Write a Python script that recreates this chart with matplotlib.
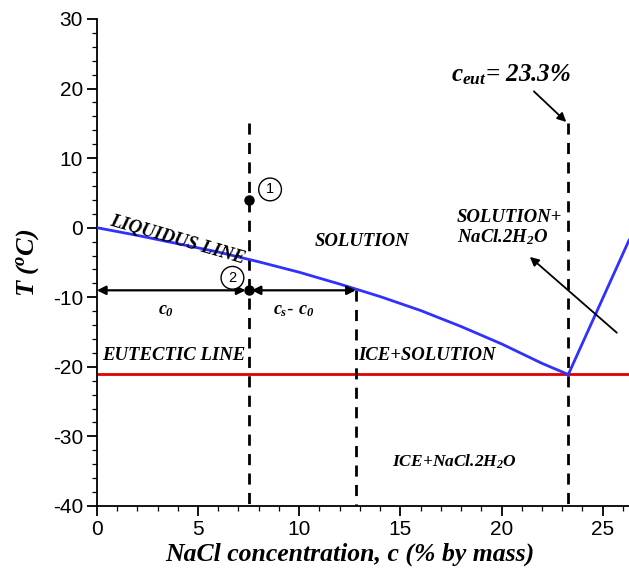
import matplotlib
matplotlib.use("Agg")
import matplotlib.pyplot as plt
from matplotlib.ticker import MultipleLocator

plt.rcParams["axes.unicode_minus"] = False
plt.rcParams["mathtext.fontset"] = "custom"
plt.rcParams["mathtext.rm"] = "Liberation Serif:bold:italic"
plt.rcParams["mathtext.it"] = "Liberation Serif:bold:italic"
plt.rcParams["mathtext.bf"] = "Liberation Serif:bold:italic"

# Data
liq_c = [0, 2, 4, 6, 8, 10, 12, 14, 16, 18, 20, 22, 23.3]
liq_T = [0, -1.1, -2.3, -3.5, -4.9, -6.4, -8.1, -9.9, -11.9, -14.2, -16.7, -19.5, -21.1]
sat_c = [23.3, 26.3]
sat_T = [-21.1, -1.8]
eut_T = -21.1
c0 = 7.5
cs = 12.8
ceut = 23.3
T1 = 4
T2 = -9

serif = dict(family="Liberation Serif", weight="bold", style="italic")

fig = plt.figure(figsize=(6.29, 5.74), dpi=100)
ax = fig.add_axes([0.154, 0.1185, 0.846, 0.8484])

ax.axhline(eut_T, color="#e00000", lw=2, zorder=2)
ax.plot(liq_c, liq_T, color="#3030ff", lw=2, zorder=3)
ax.plot(sat_c, sat_T, color="#3030ff", lw=2, zorder=3)

dash = dict(color="black", lw=2, ls=(0, (4, 3)), zorder=2)
ax.plot([c0, c0], [15, -40], **dash)
ax.plot([cs, cs], [T2, -40], **dash)
ax.plot([ceut, ceut], [15, -40], **dash)

ax.plot([c0, c0], [T1, T2], "o", color="black", ms=6.5, zorder=5)

arr = dict(arrowstyle="<|-|>", color="black", lw=1.6, mutation_scale=13, shrinkA=0, shrinkB=0)
ax.annotate("", xy=(0, T2), xytext=(c0 - 0.15, T2), arrowprops=arr)
ax.annotate("", xy=(c0 + 0.15, T2), xytext=(cs, T2), arrowprops=arr)

ax.annotate("", xy=(ceut - 0.1, 15.2), xytext=(21.6, 19.6),
            arrowprops=dict(arrowstyle="-|>", color="black", lw=1.3, mutation_scale=13,
                            shrinkA=0, shrinkB=0))
ax.annotate("", xy=(21.4, -4.2), xytext=(25.7, -15.1),
            arrowprops=dict(arrowstyle="-|>", color="black", lw=1.3, mutation_scale=13,
                            shrinkA=0, shrinkB=0))

circ = dict(boxstyle="circle,pad=0.3", fc="white", ec="black", lw=1)
ax.text(8.56, 5.5, "1", fontsize=10.5, ha="center", va="center", bbox=circ, family="Liberation Sans")
ax.text(6.7, -7.2, "2", fontsize=10.5, ha="center", va="center", bbox=circ, family="Liberation Sans")

fs = 13.5
ax.text(0.65, 1.0, "LIQUIDUS LINE", fontsize=fs, rotation=-16, ha="left", va="center",
        rotation_mode="anchor", **serif)
ax.text(10.75, -2.0, "SOLUTION", fontsize=fs, ha="left", va="center", **serif)
ax.text(17.8, 1.5, "SOLUTION+", fontsize=fs, ha="left", va="center", **serif)
ax.text(17.8, -1.4, r"NaCl.2H$_2$O", fontsize=fs, ha="left", va="center", **serif)
ax.text(0.25, -18.4, "EUTECTIC LINE", fontsize=fs, ha="left", va="center", **serif)
ax.text(12.9, -18.3, "ICE+SOLUTION", fontsize=fs, ha="left", va="center", **serif)
ax.text(14.6, -33.6, r"ICE+NaCl.2H$_2$O", fontsize=12.5, ha="left", va="center", **serif)
ax.text(3.4, -11.8, r"$c_0$", fontsize=13, ha="center", va="center")
ax.text(9.75, -11.8, r"$c_s$- $c_0$", fontsize=13, ha="center", va="center")
ax.text(17.5, 22.0, r"$c_{eut}$= 23.3%", fontsize=18, ha="left", va="center", **serif)

ax.set_xlim(0, 26.3)
ax.set_ylim(-40, 30)
ax.xaxis.set_major_locator(MultipleLocator(5))
ax.xaxis.set_minor_locator(MultipleLocator(1))
ax.yaxis.set_major_locator(MultipleLocator(10))
ax.yaxis.set_minor_locator(MultipleLocator(2))
ax.tick_params(which="major", direction="out", length=7, width=1.3, labelsize=15, pad=3)
ax.tick_params(which="minor", direction="out", length=3.5, width=0.9)
for lab in ax.get_xticklabels() + ax.get_yticklabels():
    lab.set_family("Liberation Sans")
ax.spines["top"].set_visible(False)
ax.spines["right"].set_visible(False)
ax.spines["left"].set_linewidth(1.3)
ax.spines["bottom"].set_linewidth(1.3)

ax.set_xlabel("NaCl concentration, c (% by mass)", fontsize=18.5, **serif)
ax.xaxis.set_label_coords(0.475, -0.075)
ax.set_ylabel(r"T ($^o$C)", fontsize=19, **serif)
ax.yaxis.set_label_coords(-0.105, 0.5)

fig.savefig("out.png", dpi=100)
